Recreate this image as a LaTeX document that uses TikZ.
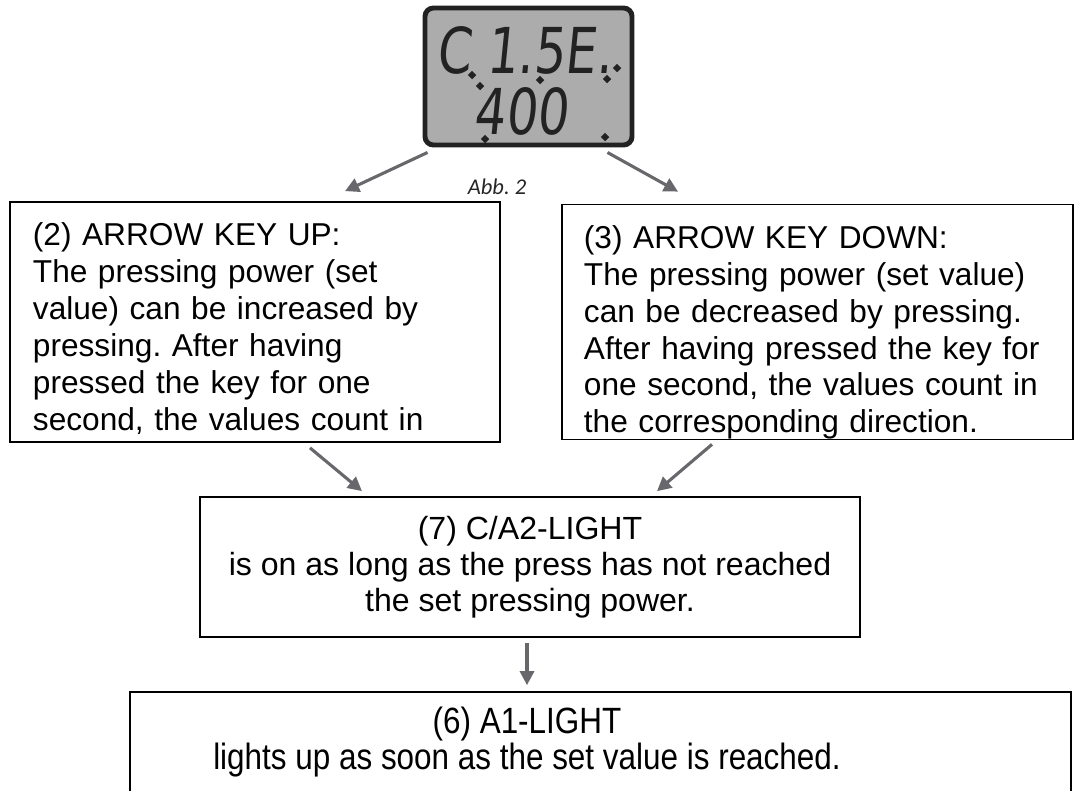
\documentclass[tikz,border=0pt]{standalone}
\usepackage{fontspec}
\setmainfont{Liberation Sans}
\newfontfamily\narrowsans[FakeStretch=0.86]{Liberation Sans}
\newfontfamily\lcdfont[FakeSlant=0.1,FakeStretch=0.78]{DejaVu Sans}
\newfontfamily\captionfont{Carlito}
\usetikzlibrary{arrows.meta, positioning, calc, fit}
\definecolor{cArrowGrey}{RGB}{104,104,108}
\definecolor{cLcdFill}{RGB}{172,172,172}
\definecolor{cLcdFrame}{RGB}{34,34,34}
\frenchspacing

\begin{document}
\begin{tikzpicture}[x=0.025cm, y=-0.025cm,
    infobox/.style={draw, line width=1.2pt, inner sep=0pt, font=\fontsize{22.5}{26.3}\selectfont},
    flowarrow/.style={cArrowGrey, line width=2.2pt, -{Triangle[length=10pt,width=10pt]}},
    lcdtext/.style={text=cLcdFrame, inner sep=0pt, text height=33pt, text depth=0pt,
                    font=\lcdfont\fontsize{45}{45}\selectfont}]
    \useasboundingbox (0,0) rectangle (1076,790);
    \clip (0,0) rectangle (1076,790);

    % display, Abb. 2
    \node[draw=cLcdFrame, line width=3.5pt, fill=cLcdFill, rounded corners=6pt,
          minimum width=5.175cm, minimum height=3.425cm] (disp) at (528.5,76.5) {};
    \node[lcdtext] (lcdtop) at (524,50) {C 1.5E.};
    \node[lcdtext] (lcdbot) at (521,111) {400};
    \foreach \dx/\dy in {472/75, 480/86, 540/80, 617/68, 607/79, 605/137, 485/139}
        \fill[cLcdFrame, rotate around={45:(\dx,\dy)}] (\dx-3,\dy-3) rectangle (\dx+3,\dy+3);
    \node[font=\captionfont\itshape\fontsize{16}{18}\selectfont, text=black!85] (abb) at (497,187) {Abb. 2};

    % key boxes
    \node[infobox, align=left, text width=11.1cm, inner xsep=0.575cm, minimum height=6cm] (keyup) at (255,322)
        {\rule{0pt}{26pt}(2) ARROW KEY UP:\\
         The pressing power (set\\
         value) can be increased by\\
         pressing. After having\\
         pressed the key for one\\
         second, the values count in};
    \node[infobox, align=left, text width=11.675cm, inner xsep=0.55cm, minimum height=5.75cm] (keydown) at (817.5,322)
        {\rule{0pt}{31pt}(3) ARROW KEY DOWN:\\
         The pressing power (set value)\\
         can be decreased by pressing.\\
         After having pressed the key for\\
         one second, the values count in\\
         the corresponding direction.};

    % lights
    \node[infobox, align=center, minimum width=16.5cm, minimum height=3.5cm,
          font=\fontsize{22.8}{25.6}\selectfont] (lightca) at (530,567)
        {(7) C/A2-LIGHT\\
         is on as long as the press has not reached\\
         the set pressing power.};
    \node[align=center, inner sep=0pt, font=\narrowsans\fontsize{26}{25.6}\selectfont] (lightatext) at (527,742)
        {(6) A1-LIGHT\\
         lights up as soon as the set value is reached.};
    \node[infobox, fit={(130,692) (1071,794)}] (lighta) {};

    \draw[flowarrow] ($(disp.south west)+(5,5)$) -- ($(keyup.north)+(90,-10)$);
    \draw[flowarrow] ($(disp.south east)+(-27,5)$) -- ($(keydown.north)+(-139.5,-12)$);
    \draw[flowarrow] ($(keyup.south)+(55,5)$) -- ($(lightca.north)+(-168,-5)$);
    \draw[flowarrow] ($(keydown.south)+(-105.5,4)$) -- ($(lightca.north)+(127,-5)$);
    \draw[flowarrow] ($(lightca.south)+(-3,5)$) -- ($(lighta.north)+(-73.5,-6)$);
\end{tikzpicture}
\end{document}
